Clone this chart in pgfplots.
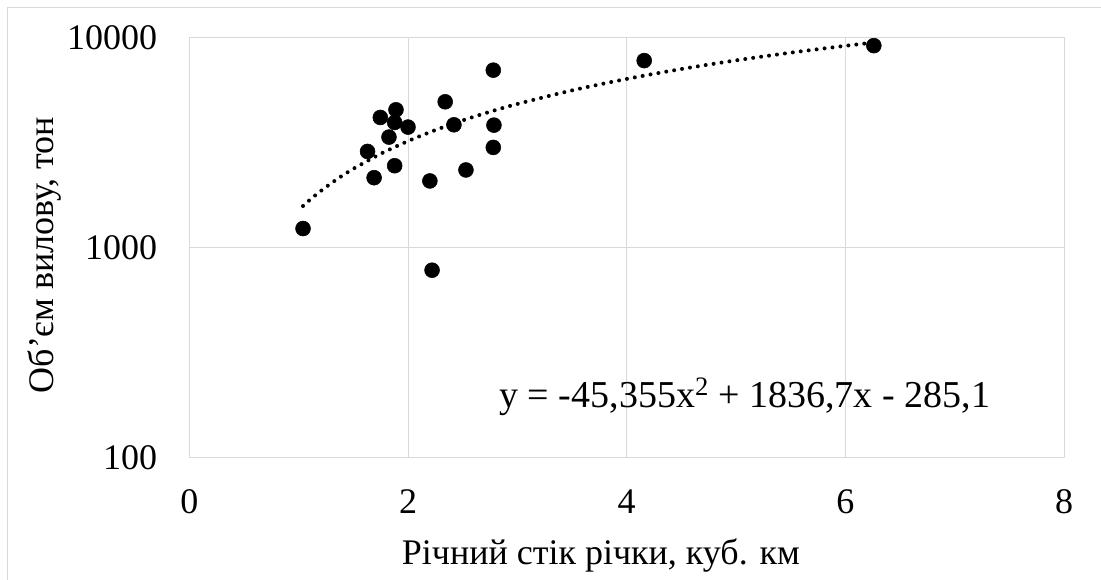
\documentclass[border=0pt]{standalone}
\usepackage{pgfplots}
\pgfplotsset{compat=1.18}
\usepackage{fontspec}
\setmainfont{Liberation Serif}
\definecolor{gridgray}{HTML}{D9D9D9}
\newcommand{\bigfont}{\fontsize{27}{32}\selectfont}
\begin{document}
\begin{tikzpicture}
\useasboundingbox (-141.98pt,-91.65pt) rectangle (683.78pt,343.35pt);
\draw[gridgray, line width=0.75pt] (-135.98pt,-95pt) -- (-135.98pt,337.35pt) -- (690pt,337.35pt);
\begin{axis}[
  scale only axis,
  width=656.1pt, height=315.4pt,
  xmin=0, xmax=8, ymin=100, ymax=10000,
  ymode=log,
  xtick={0,2,4,6,8},
  ytick={100,1000,10000},
  yticklabels={100,1000,10000},
  minor ytick={},
  major tick length=0pt, minor tick length=0pt,
  grid=major,
  major grid style={gridgray, line width=0.75pt},
  axis line style={gridgray, line width=0.75pt},
  /pgf/number format/assume math mode=true,
  tick label style={font=\bigfont, inner sep=0pt},
  xticklabel style={anchor=north, yshift=-24pt},
  yticklabel style={anchor=east, xshift=-24pt},
  xlabel={Річний стік річки, куб. км},
  ylabel={Об'єм вилову, тон},
  label style={font=\bigfont, inner sep=0pt},
  xlabel style={at={(axis description cs:0.4706,0)}, anchor=base, yshift=-80.4pt},
  ylabel style={at={(axis description cs:-0.15577,0.482)}, anchor=base, rotate=0},
  clip=false,
]
\addplot[black, line width=3pt, line cap=round, dash pattern=on 0pt off 6pt, smooth] coordinates {
(1.04,1576.0) (1.1,1680.4) (1.2,1853.6) (1.35,2111.8) (1.5,2367.9) (1.75,2790.2)
(2,3206.9) (2.25,3617.9) (2.5,4023.2) (2.75,4422.8) (3,4816.8) (3.5,5587.8)
(4,6336.0) (4.5,7061.6) (5,7764.5) (5.5,8444.8) (6,9102.3) (6.26,9435.3)
};
\addplot[only marks, mark=*, mark size=5.6pt, black, mark options={fill=black}] coordinates {
(1.04,1231) (1.69,2148) (1.63,2864) (1.747,4155) (1.89,4519) (1.878,3933)
(1.826,3352) (2.0,3740) (1.878,2449) (2.20,2073) (2.22,780) (2.34,4932)
(2.42,3835) (2.53,2338) (2.78,6974) (2.786,3820) (2.78,2993) (4.16,7744)
(6.26,9120)
};
\node[anchor=base, font=\fontsize{28.5}{33}\selectfont, inner sep=0pt] at (axis cs:5.08,174) {y = -45,355x\textsuperscript{2} + 1836,7x - 285,1};
\end{axis}
\end{tikzpicture}
\end{document}
